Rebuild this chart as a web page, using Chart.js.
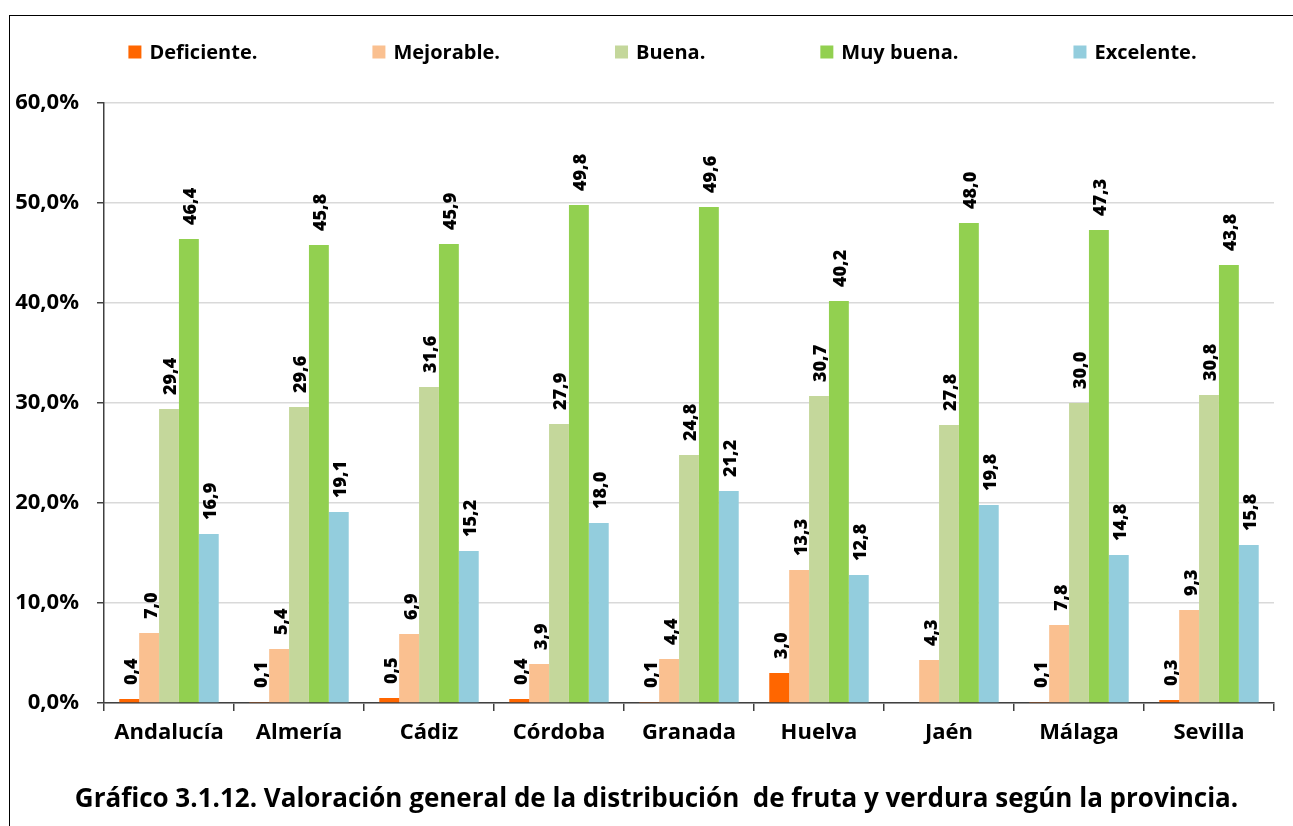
<!DOCTYPE html>
<html>
<head>
<meta charset="utf-8">
<script src="https://cdn.jsdelivr.net/npm/chart.js@4.4.0/dist/chart.umd.min.js"></script>
<style>
  html, body { margin: 0; padding: 0; background: #fff; }
  #frame { position: absolute; left: 9px; top: 15px; width: 1400px; height: 900px;
           border-left: 1.5px solid #000; border-top: 1.5px solid #000; }
  #wrap { position: absolute; left: 0; top: 0; width: 1293px; height: 826px; }
</style>
</head>
<body>
<div id="frame"></div>
<div id="wrap"><canvas id="chart" width="1293" height="826"></canvas></div>
<script>
const provincias = ['Andalucía', 'Almería', 'Cádiz', 'Córdoba', 'Granada', 'Huelva', 'Jaén', 'Málaga', 'Sevilla'];
const seriesNames = ['Deficiente.', 'Mejorable.', 'Buena.', 'Muy buena.', 'Excelente.'];
const deficiente = [0.4, 0.1, 0.5, 0.4, 0.1, 3.0, null, 0.1, 0.3];
const mejorable = [7.0, 5.4, 6.9, 3.9, 4.4, 13.3, 4.3, 7.8, 9.3];
const buena = [29.4, 29.6, 31.6, 27.9, 24.8, 30.7, 27.8, 30.0, 30.8];
const muyBuena = [46.4, 45.8, 45.9, 49.8, 49.6, 40.2, 48.0, 47.3, 43.8];
const excelente = [16.9, 19.1, 15.2, 18.0, 21.2, 12.8, 19.8, 14.8, 15.8];
const colores = ['#FF6600', '#FAC090', '#C4D79B', '#92D050', '#93CDDD'];
const yTicks = [0, 10, 20, 30, 40, 50, 60];
const titulo = 'Gráfico 3.1.12. Valoración general de la distribución  de fruta y verdura según la provincia.';

const FONT = '"Open Sans", "DejaVu Sans", sans-serif';
const fmt = v => v.toFixed(1).replace('.', ',');

// rotated value labels above each bar
const barLabels = {
  id: 'barLabels',
  afterDatasetsDraw(chart) {
    const ctx = chart.ctx;
    const size = 18;
    ctx.save();
    ctx.font = `800 ${size}px ${FONT}`;
    ctx.fillStyle = '#000';
    ctx.textAlign = 'left';
    ctx.textBaseline = 'alphabetic';
    chart.data.datasets.forEach((ds, i) => {
      chart.getDatasetMeta(i).data.forEach((bar, j) => {
        const v = ds.data[j];
        if (v === null || v === undefined) return;
        ctx.save();
        ctx.translate(bar.x + size * 0.36 + 1, bar.y - 14);
        ctx.rotate(-Math.PI / 2);
        ctx.fillText(fmt(v), 0, 0);
        ctx.restore();
      });
    });
    ctx.restore();
  }
};

// legend spread like the spreadsheet one: equal gaps between entries,
// plus the caption under the axis
const sheetLegend = {
  id: 'sheetLegend',
  afterDraw(chart) {
    const ctx = chart.ctx;
    const box = 13, gapText = 8, gapItem = 115;
    ctx.save();
    ctx.font = `bold 20px ${FONT}`;
    ctx.textBaseline = 'middle';
    ctx.textAlign = 'left';
    const items = chart.data.datasets.map(ds => ({
      text: ds.label, color: ds.backgroundColor, w: ctx.measureText(ds.label).width
    }));
    const total = items.reduce((s, it) => s + box + gapText + it.w, 0) + gapItem * (items.length - 1);
    let x = chart.width / 2 + 16 - total / 2;
    const y = 52;
    items.forEach(it => {
      ctx.fillStyle = it.color;
      ctx.fillRect(x, y - box / 2, box, box);
      ctx.fillStyle = '#000';
      ctx.fillText(it.text, x + box + gapText, y + 1);
      x += box + gapText + it.w + gapItem;
    });

    ctx.font = `bold 26px ${FONT}`;
    ctx.textAlign = 'center';
    ctx.fillText(titulo, chart.width / 2 + 10, 800);
    ctx.restore();
  }
};

const valores = [deficiente, mejorable, buena, muyBuena, excelente];

new Chart(document.getElementById('chart'), {
  type: 'bar',
  data: {
    labels: provincias,
    datasets: seriesNames.map((name, i) => ({
      label: name,
      data: valores[i],
      backgroundColor: colores[i],
      borderWidth: 0,
      barPercentage: 1.0,
      categoryPercentage: 0.765
    }))
  },
  options: {
    responsive: false,
    animation: false,
    layout: { padding: { left: 10, right: 19, top: 103, bottom: 73 } },
    plugins: {
      legend: { display: false },
      tooltip: { enabled: false },
      title: { display: false }
    },
    scales: {
      x: {
        offset: true,
        grid: { display: true, drawOnChartArea: false, offset: true, tickColor: '#404040', tickLength: 8, lineWidth: 1.5 },
        border: { color: '#404040', width: 1.5 },
        ticks: { color: '#000', font: { family: FONT, size: 22, weight: 'bold' }, padding: 9, maxRotation: 0 },
        afterFit(s) { s.height = 50; }
      },
      y: {
        min: 0,
        max: 60,
        afterBuildTicks(s) { s.ticks = yTicks.map(v => ({ value: v })); },
        grid: { color: '#D9D9D9', lineWidth: 1.5, tickColor: '#404040', tickLength: 7 },
        border: { color: '#404040', width: 1.5 },
        ticks: {
          color: '#000',
          font: { family: FONT, size: 22, weight: 'bold' },
          padding: 18,
          callback: v => fmt(v) + '%'
        },
        afterFit(s) { s.width = 94; }
      }
    }
  },
  plugins: [barLabels, sheetLegend]
});
</script>
</body>
</html>
